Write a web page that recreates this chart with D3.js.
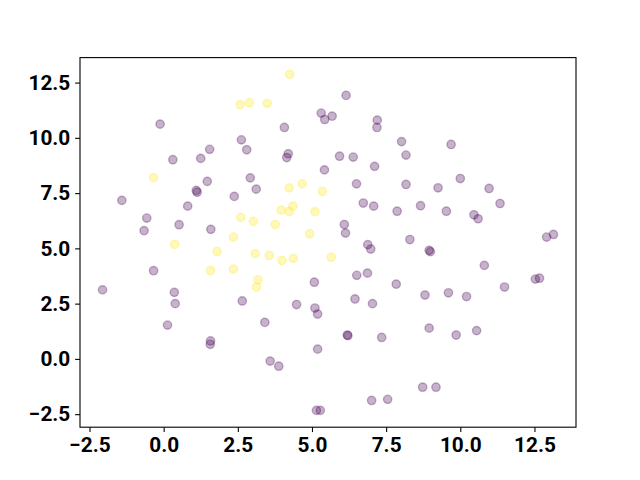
<!DOCTYPE html>
<html><head><meta charset="utf-8">
<script src="https://cdn.jsdelivr.net/npm/d3@7"></script>
<style>body{margin:0;background:#fff}svg{display:block}</style>
</head><body>
<svg id="c" width="640" height="480"></svg>
<script>
const xs0 = [-0.12,0.31,1.25,1.55,2.62,2.80,6.15,5.31,5.43,5.68,7.20,7.19,4.07,4.20,4.15,5.93,6.39,7.11,8.02,8.17,9.69,10.00,5.42,2.92,3.12,2.38,1.47,1.10,1.13,-1.41,0.81,-0.57,0.52,-0.66,1.59,-0.34,-2.06,0.36,6.50,8.17,6.73,7.08,7.87,6.09,6.13,8.30,6.88,6.98,6.51,6.87,5.08,7.84,2.65,6.45,9.25,10.97,8.66,9.53,11.34,10.46,10.60,8.95,8.99,12.91,13.14,10.81,12.53,12.67,11.49,8.81,9.60,10.21,0.39,0.13,1.58,1.57,4.48,5.10,5.19,7.04,3.41,6.19,6.21,7.35,5.19,3.59,3.88,7.01,7.55,5.15,5.28,8.95,9.86,10.55,8.73,9.18];
const ys0 = [10.62,9.01,9.07,9.48,9.91,9.46,11.92,11.12,10.83,10.98,10.80,10.47,10.47,9.28,9.11,9.17,9.13,8.71,9.83,9.22,9.70,8.16,8.55,8.19,7.68,7.35,8.03,7.62,7.54,7.17,6.91,6.37,6.07,5.80,5.86,3.99,3.12,3.01,7.92,7.89,7.05,6.91,6.68,6.08,5.69,5.40,5.17,4.97,3.78,3.88,3.47,3.38,2.62,2.71,7.74,7.71,6.93,6.68,7.03,6.52,6.34,4.91,4.85,5.51,5.63,4.23,3.61,3.65,3.25,2.89,2.99,2.82,2.50,1.53,0.81,0.66,2.46,2.30,2.03,2.50,1.65,1.08,1.05,0.97,0.44,-0.10,-0.33,-1.88,-1.83,-2.33,-2.33,1.39,1.08,1.28,-1.28,-1.28];
const xs1 = [4.25,2.58,2.89,3.49,-0.34,0.37,1.80,1.58,2.35,2.35,2.60,3.02,3.76,3.96,4.23,4.36,4.23,4.67,5.35,5.10,4.92,3.09,3.56,3.99,4.37,5.65,3.18,3.13];
const ys1 = [12.87,11.50,11.59,11.56,8.20,5.18,4.86,4.00,5.51,4.06,6.40,6.22,6.08,6.73,6.67,6.91,7.74,7.92,7.58,6.66,5.66,4.76,4.68,4.45,4.55,4.60,3.58,3.25];
const xTicks = [-2.5,0,2.5,5,7.5,10,12.5];
const yTicks = [-2.5,0,2.5,5,7.5,10,12.5];
const colors = ["#440154","#fde725"];

const pts = xs0.map((x,i)=>({x,y:ys0[i],c:0})).concat(xs1.map((x,i)=>({x,y:ys1[i],c:1})));
const L=80,R=576,T=57.6,B=427.2;
function padded(arr){const e=d3.extent(arr);const p=(e[1]-e[0])*0.05;return [e[0]-p,e[1]+p];}
const x = d3.scaleLinear().domain(padded(pts.map(d=>d.x))).range([L,R]);
const y = d3.scaleLinear().domain(padded(pts.map(d=>d.y))).range([B,T]);
const svg = d3.select("#c");
const fmt = v => d3.format(".1f")(v).replace("-","\u2212");

svg.append("g").selectAll("circle").data(pts).join("circle")
  .attr("cx",d=>x(d.x)).attr("cy",d=>y(d.y)).attr("r",4.17)
  .attr("fill",d=>colors[d.c]).attr("fill-opacity",0.3)
  .attr("stroke",d=>colors[d.c]).attr("stroke-opacity",0.3).attr("stroke-width",1.39);

const font = "Roboto, 'DejaVu Sans', sans-serif";
const gx = svg.append("g").attr("transform",`translate(0,${B})`)
  .call(d3.axisBottom(x).tickValues(xTicks).tickFormat(fmt).tickSizeOuter(0).tickSizeInner(4.86).tickPadding(4.86));
const gy = svg.append("g").attr("transform",`translate(${L},0)`)
  .call(d3.axisLeft(y).tickValues(yTicks).tickFormat(fmt).tickSizeOuter(0).tickSizeInner(4.86).tickPadding(4.86));
[gx,gy].forEach(g=>{
  g.select(".domain").remove();
  g.selectAll(".tick line").attr("stroke","#000").attr("stroke-width",1.1);
  g.selectAll(".tick text").attr("fill","#000").style("font-family",font).style("font-weight","bold").style("font-size","20.8px");
});
gx.selectAll(".tick text").attr("dy","0.71em");
svg.append("rect").attr("x",L).attr("y",T).attr("width",R-L).attr("height",B-T)
  .attr("fill","none").attr("stroke","#000").attr("stroke-width",1.1);
</script>
</body></html>
